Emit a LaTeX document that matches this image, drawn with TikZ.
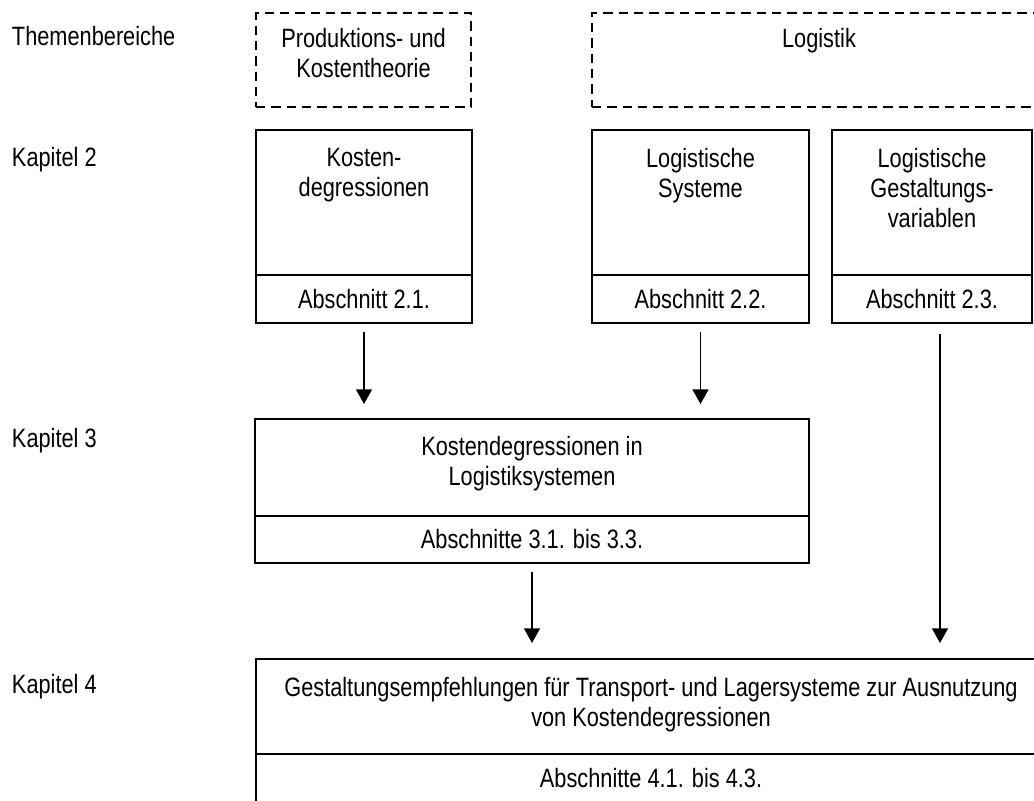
\documentclass[tikz,border=0pt]{standalone}
\usepackage{fontspec}
\setmainfont{Liberation Sans}[FakeStretch=0.82]
\usetikzlibrary{positioning, arrows.meta}

\begin{document}
\begin{tikzpicture}[
        x=0.75pt, y=-0.75pt, % Pixelraster des Originals
        every node/.style={
            font=\fontsize{19.9}{22.5}\selectfont, % Schrift
            inner sep=0, % kein Innenabstand
            outer sep=0
        },
        kasten/.style={draw, line width=1.2pt, rectangle, anchor=north west},
        gestrichelt/.style={kasten, dash pattern=on 7pt off 4.5pt},
        abschnitt/.style={draw, line width=1.2pt, rectangle, minimum height=36pt},
        titel/.style={align=center, anchor=north},
        zeile/.style={anchor=base west},
        pfeil/.style={line width=1.2pt, -{Triangle[width=12pt, length=11pt]}}
    ]

    \clip (0,0) rectangle (1034,800);

    % Beschriftung links
    \node[zeile] (tb) at (12,45) {Themenbereiche};
    \node[zeile] (kap2) at (12,166) {Kapitel 2};
    \node[zeile] (kap3) at (12,447) {Kapitel 3};
    \node[zeile] (kap4) at (12,693) {Kapitel 4};

    % Themenbereiche
    \node[gestrichelt, minimum width=161.25pt, minimum height=70.5pt] (pk) at (256,13) {};
    \node[titel, below=11.25pt of pk.north] (pktxt) {Produktions- und\\Kostentheorie};
    \node[gestrichelt, minimum width=340.5pt, minimum height=70.5pt] (lo) at (592,13) {};
    \node[titel, below=11.25pt of lo.north] (lotxt) {Logistik};

    % Kapitel 2
    \node[kasten, minimum width=162pt, minimum height=108.75pt] (kd) at (256,130) {};
    \node[titel, below=14pt of kd.north] (kdtxt) {Kosten-\\degressionen};
    \node[abschnitt, minimum width=162pt, below=0pt of kd] (kdab) {Abschnitt 2.1.};

    \node[kasten, minimum width=162.75pt, minimum height=108.75pt] (ls) at (592,130) {};
    \node[titel, below=14pt of ls.north] (lstxt) {Logistische\\Systeme};
    \node[abschnitt, minimum width=162.75pt, below=0pt of ls] (lsab) {Abschnitt 2.2.};

    \node[kasten, minimum width=150pt, minimum height=108.75pt] (gv) at (832,130) {};
    \node[titel, below=14pt of gv.north] (gvtxt) {Logistische\\Gestaltungs-\\variablen};
    \node[abschnitt, minimum width=150pt, below=0pt of gv] (gvab) {Abschnitt 2.3.};

    % Kapitel 3
    \node[kasten, minimum width=415.5pt, minimum height=72.75pt] (k3) at (255,419) {};
    \node[titel, below=12.75pt of k3.north] (k3txt) {Kostendegressionen in\\Logistiksystemen};
    \node[abschnitt, minimum width=415.5pt, minimum height=35.25pt, below=0pt of k3] (k3ab) {Abschnitte 3.1. bis 3.3.};

    % Kapitel 4
    \node[kasten, minimum width=592.5pt, minimum height=71.25pt] (k4) at (256,659) {};
    \node[titel, below=13.5pt of k4.north] (k4txt) {Gestaltungsempfehlungen für Transport- und Lagersysteme zur Ausnutzung\\von Kostendegressionen};
    \node[abschnitt, minimum width=592.5pt, below=0pt of k4] (k4ab) {Abschnitte 4.1. bis 4.3.};

    % Pfeile
    \draw[pfeil, shorten <=6.75pt, shorten >=11.25pt] (kdab) -- (kdab |- k3.north);
    \draw[pfeil, shorten <=6.75pt, shorten >=11.25pt] (lsab) -- (lsab |- k3.north);
    \draw[pfeil, shorten <=8.25pt, shorten >=12pt] ([xshift=6pt]gvab.south) -- ([xshift=6pt]gvab.south |- k4.north);
    \draw[pfeil, shorten <=6.75pt, shorten >=12pt] (k3ab) -- (k3ab |- k4.north);
\end{tikzpicture}
\end{document}
